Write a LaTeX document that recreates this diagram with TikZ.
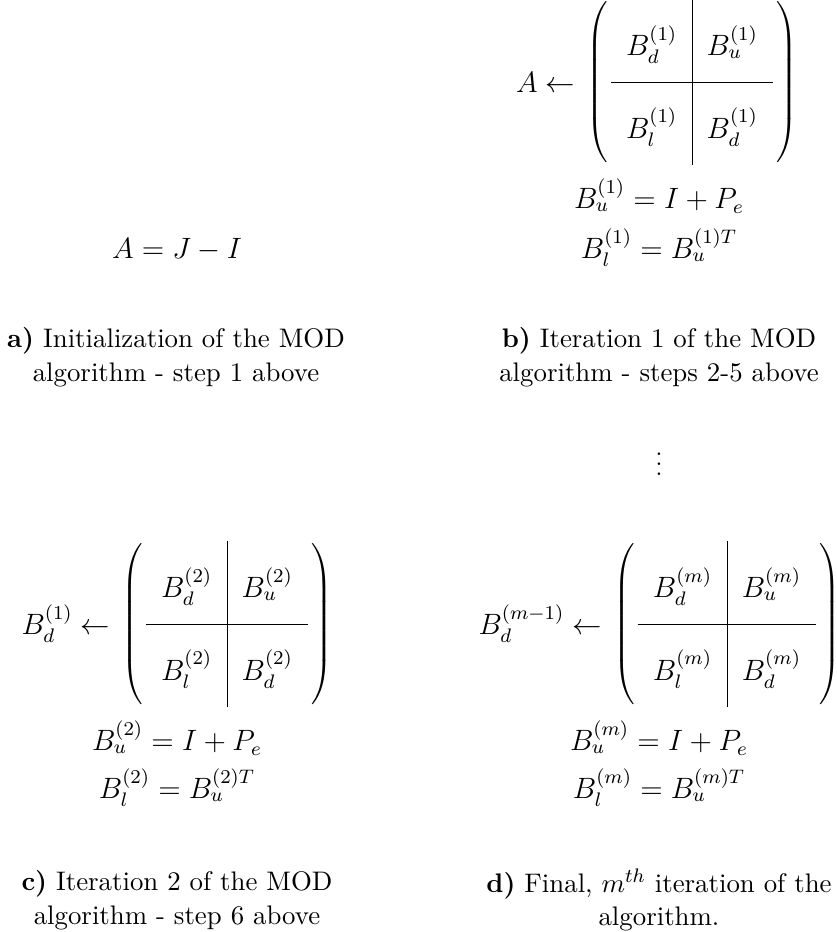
\documentclass[tikz,border=0pt]{standalone}
\usepackage{amsmath}
\usetikzlibrary{matrix, positioning}

\tikzset{
  blockmat/.style={matrix of math nodes, left delimiter=(, right delimiter=),
    inner sep=0pt, column sep=0pt, row sep=0pt,
    nodes={minimum width=#1, minimum height=33.7pt, text height=15pt, text depth=3pt,
      inner sep=0pt, font=\large}},
  lhs/.style={font=\large, inner sep=0pt},
  eqn/.style={font=\large, inner sep=0pt},
  capt/.style={align=center, inner sep=0pt, font=\fontsize{10.95}{13.8}\selectfont}
}

\begin{document}
\begin{tikzpicture}[x=0.408pt, y=-0.408pt]
		\useasboundingbox (0,0) rectangle (837,932);
		% Column widths of the block matrices
		\def\colw{32.9pt}
		\def\colwm{36.3pt}
		% a) initialization
		\node[eqn] (eqa) at (177,250) {$A = J - I$};
		\node[capt] (capa) at (176,357) {\textbf{a)} Initialization of the MOD\\algorithm - step 1 above};
		% b) iteration 1
		\matrix (mb) [blockmat=\colw] at (692,82) {
			B_d^{(1)} & B_u^{(1)} \\
			B_l^{(1)} & B_d^{(1)} \\
		};
		\draw (mb-1-1.north east) -- (mb-2-1.south east);
		\draw (mb-1-1.south west) -- (mb-1-2.south east);
		\node[lhs, left=14.3pt of mb] (lb) {$A \leftarrow$};
		\node[eqn] (eqb1) at (659,196) {$B_u^{(1)} = I + P_e$};
		\node[eqn] (eqb2) at (659,248) {$B_l^{(1)} = B_u^{(1)T}$};
		\node[capt] (capb) at (659,357) {\textbf{b)} Iteration 1 of the MOD\\algorithm - steps 2-5 above};
		% dots between the iterations
		\node (dots) at (659,457) {$\vdots$};
		% c) iteration 2
		\matrix (mc) [blockmat=\colw] at (227,624) {
			B_d^{(2)} & B_u^{(2)} \\
			B_l^{(2)} & B_d^{(2)} \\
		};
		\draw (mc-1-1.north east) -- (mc-2-1.south east);
		\draw (mc-1-1.south west) -- (mc-1-2.south east);
		\node[lhs, left=14.3pt of mc] (lc) {$B_d^{(1)} \leftarrow$};
		\node[eqn] (eqc1) at (177,738) {$B_u^{(2)} = I + P_e$};
		\node[eqn] (eqc2) at (177,788) {$B_l^{(2)} = B_u^{(2)T}$};
		\node[capt] (capc) at (177,900) {\textbf{c)} Iteration 2 of the MOD\\algorithm - step 6 above};
		% d) final iteration
		\matrix (md) [blockmat=\colwm] at (727,624) {
			B_d^{(m)} & B_u^{(m)} \\
			B_l^{(m)} & B_d^{(m)} \\
		};
		\draw (md-1-1.north east) -- (md-2-1.south east);
		\draw (md-1-1.south west) -- (md-1-2.south east);
		\node[lhs, left=14.3pt of md] (ld) {$B_d^{(m-1)} \leftarrow$};
		\node[eqn] (eqd1) at (659,738) {$B_u^{(m)} = I + P_e$};
		\node[eqn] (eqd2) at (659,788) {$B_l^{(m)} = B_u^{(m)T}$};
		\node[capt] (capd) at (659,900) {\textbf{d)} Final, $m^{th}$ iteration of the\\algorithm.};
	\end{tikzpicture}
\end{document}
